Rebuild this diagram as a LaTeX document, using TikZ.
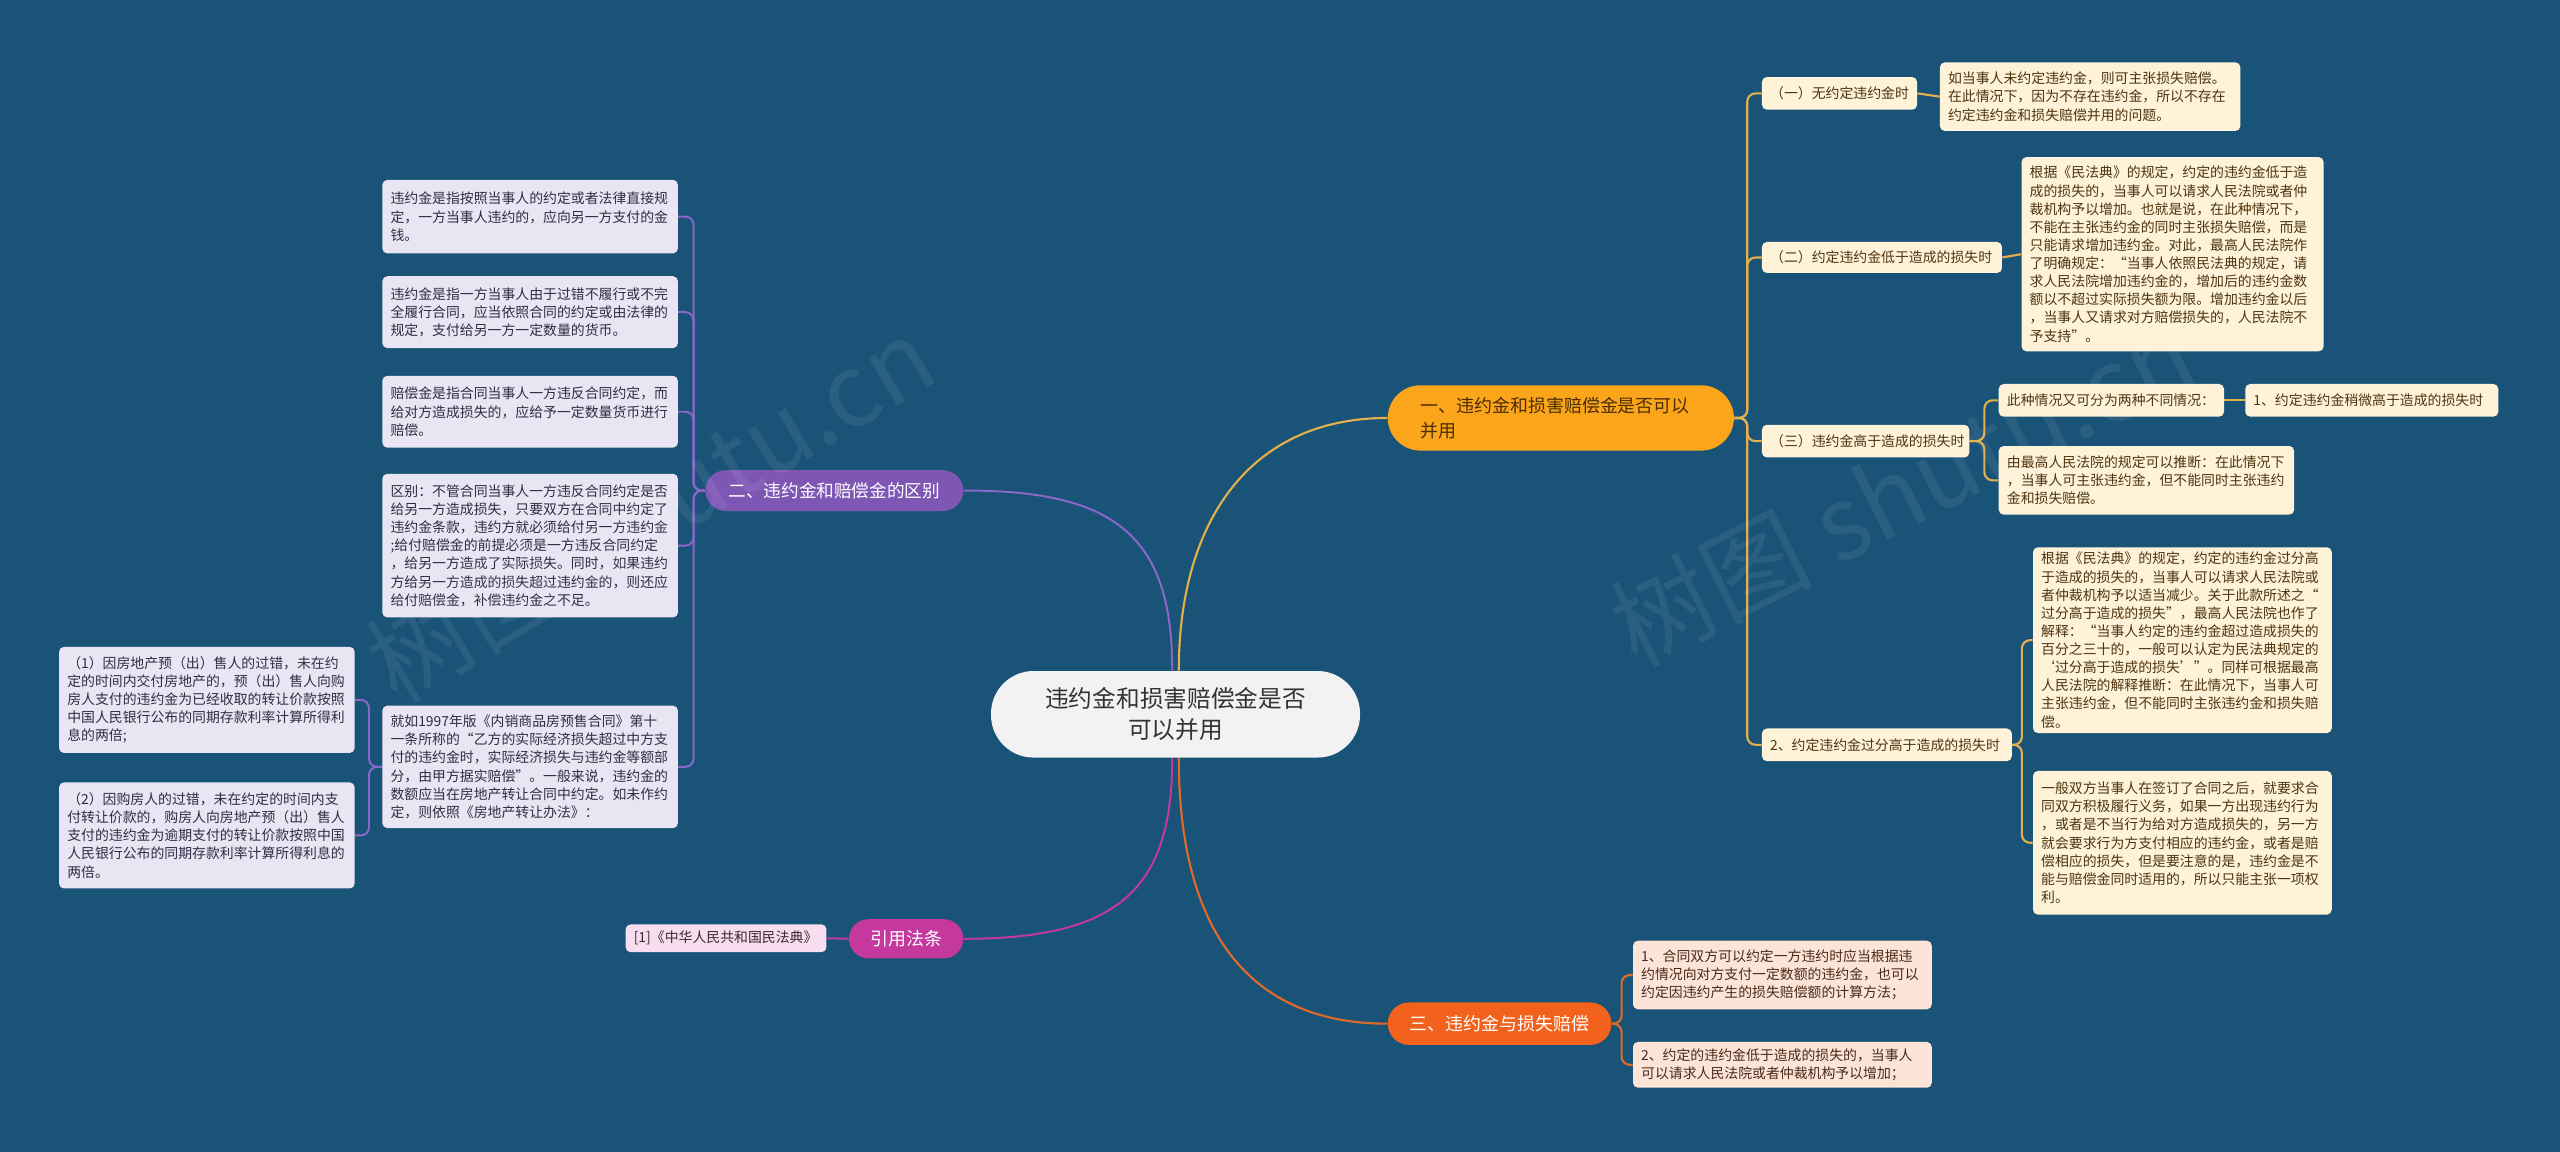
\documentclass[tikz,border=0pt]{standalone}
\usepackage{fontspec}
\newfontfamily\cjk{Noto Sans CJK SC}
\usetikzlibrary{backgrounds}
\definecolor{bgc}{HTML}{1A5378}
\definecolor{centerfill}{HTML}{F2F2F2}
\definecolor{centertext}{HTML}{333333}
\definecolor{goldfill}{HTML}{FBA51A}
\definecolor{goldtext}{HTML}{4A2E05}
\definecolor{goldline}{HTML}{E3B04B}
\definecolor{goldleaf}{HTML}{FEF2D9}
\definecolor{goldleaftext}{HTML}{4E3510}
\definecolor{purplefill}{HTML}{7E57B5}
\definecolor{purpleline}{HTML}{8B67C9}
\definecolor{purpleleaf}{HTML}{E9E5F3}
\definecolor{purpleleaftext}{HTML}{2E2E45}
\definecolor{magfill}{HTML}{C5399E}
\definecolor{magleaf}{HTML}{F7DDED}
\definecolor{magleaftext}{HTML}{3A2A35}
\definecolor{orfill}{HTML}{F2621C}
\definecolor{orline}{HTML}{E06A2A}
\definecolor{orleaf}{HTML}{FCE4D6}
\definecolor{orleaftext}{HTML}{4A2A1A}
\begin{document}
\begin{tikzpicture}[x=1pt,y=-1pt,
  leafbox/.style={anchor=north west, rounded corners=3pt, inner xsep=5pt, inner ysep=3pt,
    align=left, font=\cjk\fontsize{8.5}{11.1}\selectfont},
  gleaf/.style={leafbox, fill=goldleaf, text=goldleaftext},
  pleaf/.style={leafbox, fill=purpleleaf, text=purpleleaftext},
  oleaf/.style={leafbox, fill=orleaf, text=orleaftext},
  mleaf/.style={leafbox, fill=magleaf, text=magleaftext},
  branchbox/.style={inner sep=0pt, font=\cjk\fontsize{11}{15}\selectfont},
  gline/.style={draw=goldline, line width=1.3pt},
  pline/.style={draw=purpleline, line width=1.2pt},
  mline/.style={draw=magfill, line width=1.2pt},
  oline/.style={draw=orline, line width=1.3pt},
  elbow/.style={rounded corners=5pt}
]
% ---------- center and branches ----------
\node[fill=centerfill, text=centertext, rounded corners=26pt, minimum width=226pt, minimum height=53pt,
  inner sep=0pt, align=center, font=\cjk\fontsize{14.5}{19}\selectfont] (c) at (720,437.5)
  {违约金和损害赔偿金是否\\可以并用};
\node[branchbox, fill=goldfill, text=goldtext, rounded corners=20pt, minimum width=212pt, minimum height=40pt,
  text width=172pt, align=left] (b1) at (956,256) {一、违约金和损害赔偿金是否可以\\并用};
\node[branchbox, fill=purplefill, text=white, rounded corners=12.5pt, minimum width=158pt, minimum height=25pt,
  font=\cjk\fontsize{10.8}{14}\selectfont] (b2) at (511,300.5) {二、违约金和赔偿金的区别};
\node[branchbox, fill=magfill, text=white, rounded corners=12pt, minimum width=70pt, minimum height=24pt] (b3) at (555,575) {引用法条};
\node[branchbox, fill=orfill, text=white, rounded corners=13pt, minimum width=137pt, minimum height=26pt] (b4) at (918.5,627) {三、违约金与损失赔偿};

% ---------- branch 1 leaves ----------
\node[gleaf, minimum width=95pt, minimum height=20pt, text width=85pt] (a1) at (1079,47) {（一）无约定违约金时};
\node[gleaf, minimum width=184pt, minimum height=42pt, text width=174pt] (a1c) at (1188,38)
 {如当事人未约定违约金，则可主张损失赔偿。\\在此情况下，因为不存在违约金，所以不存在\\约定违约金和损失赔偿并用的问题。};
\node[gleaf, minimum width=147pt, minimum height=19pt, text width=137pt] (a2) at (1079,148) {（二）约定违约金低于造成的损失时};
\node[gleaf, minimum width=185pt, minimum height=119pt, text width=175pt] (a2c) at (1238,96)
 {根据《民法典》的规定，约定的违约金低于造\\成的损失的，当事人可以请求人民法院或者仲\\裁机构予以增加。也就是说，在此种情况下，\\不能在主张违约金的同时主张损失赔偿，而是\\只能请求增加违约金。对此，最高人民法院作\\了明确规定：“当事人依照民法典的规定，请\\求人民法院增加违约金的，增加后的违约金数\\额以不超过实际损失额为限。增加违约金以后\\，当事人又请求对方赔偿损失的，人民法院不\\予支持”。};
\node[gleaf, minimum width=127pt, minimum height=20pt, text width=117pt] (a3) at (1079,260) {（三）违约金高于造成的损失时};
\node[gleaf, minimum width=138pt, minimum height=20pt, text width=128pt] (a3c1) at (1224,235) {此种情况又可分为两种不同情况：};
\node[gleaf, minimum width=155pt, minimum height=20pt, text width=145pt] (a3c1c) at (1375,235) {1、约定违约金稍微高于造成的损失时};
\node[gleaf, minimum width=181pt, minimum height=42pt, text width=171pt] (a3c2) at (1224,273)
 {由最高人民法院的规定可以推断：在此情况下\\，当事人可主张违约金，但不能同时主张违约\\金和损失赔偿。};
\node[gleaf, minimum width=153pt, minimum height=20pt, text width=143pt] (a4) at (1079,446) {2、约定违约金过分高于造成的损失时};
\node[gleaf, minimum width=183pt, minimum height=106pt, text width=173pt] (a4c1) at (1245,335)
 {根据《民法典》的规定，约定的违约金过分高\\于造成的损失的，当事人可以请求人民法院或\\者仲裁机构予以适当减少。关于此款所述之“\\过分高于造成的损失”，最高人民法院也作了\\解释：“当事人约定的违约金超过造成损失的\\百分之三十的，一般可以认定为民法典规定的\\‘过分高于造成的损失’”。同样可根据最高\\人民法院的解释推断：在此情况下，当事人可\\主张违约金，但不能同时主张违约金和损失赔\\偿。};
\node[gleaf, minimum width=183pt, minimum height=88pt, text width=173pt] (a4c2) at (1245,472)
 {一般双方当事人在签订了合同之后，就要求合\\同双方积极履行义务，如果一方出现违约行为\\，或者是不当行为给对方造成损失的，另一方\\就会要求行为方支付相应的违约金，或者是赔\\偿相应的损失，但是要注意的是，违约金是不\\能与赔偿金同时适用的，所以只能主张一项权\\利。};

% ---------- branch 4 leaves ----------
\node[oleaf, minimum width=183pt, minimum height=42pt, text width=173pt] (d1) at (1000,576)
 {1、合同双方可以约定一方违约时应当根据违\\约情况向对方支付一定数额的违约金，也可以\\约定因违约产生的损失赔偿额的计算方法；};
\node[oleaf, minimum width=183pt, minimum height=28pt, text width=173pt] (d2) at (1000,638)
 {2、约定的违约金低于造成的损失的，当事人\\可以请求人民法院或者仲裁机构予以增加；};

% ---------- branch 2 leaves ----------
\node[pleaf, minimum width=181pt, minimum height=45pt, text width=171pt] (p1) at (234,110)
 {违约金是指按照当事人的约定或者法律直接规\\定，一方当事人违约的，应向另一方支付的金\\钱。};
\node[pleaf, minimum width=181pt, minimum height=44pt, text width=171pt] (p2) at (234,169)
 {违约金是指一方当事人由于过错不履行或不完\\全履行合同，应当依照合同的约定或由法律的\\规定，支付给另一方一定数量的货币。};
\node[pleaf, minimum width=181pt, minimum height=44pt, text width=171pt] (p3) at (234,230)
 {赔偿金是指合同当事人一方违反合同约定，而\\给对方造成损失的，应给予一定数量货币进行\\赔偿。};
\node[pleaf, minimum width=181pt, minimum height=88pt, text width=171pt] (p4) at (234,290)
 {区别：不管合同当事人一方违反合同约定是否\\给另一方造成损失，只要双方在合同中约定了\\违约金条款，违约方就必须给付另一方违约金\\;给付赔偿金的前提必须是一方违反合同约定\\，给另一方造成了实际损失。同时，如果违约\\方给另一方造成的损失超过违约金的，则还应\\给付赔偿金，补偿违约金之不足。};
\node[pleaf, minimum width=181pt, minimum height=75pt, text width=171pt] (p5) at (234,432)
 {就如1997年版《内销商品房预售合同》第十\\一条所称的“乙方的实际经济损失超过中方支\\付的违约金时，实际经济损失与违约金等额部\\分，由甲方据实赔偿”。一般来说，违约金的\\数额应当在房地产转让合同中约定。如未作约\\定，则依照《房地产转让办法》：};
\node[pleaf, minimum width=181pt, minimum height=65pt, text width=171pt] (q1) at (36,396)
 {（1）因房地产预（出）售人的过错，未在约\\定的时间内交付房地产的，预（出）售人向购\\房人支付的违约金为已经收取的转让价款按照\\中国人民银行公布的同期存款利率计算所得利\\息的两倍;};
\node[pleaf, minimum width=181pt, minimum height=65pt, text width=171pt] (q2) at (36,479)
 {（2）因购房人的过错，未在约定的时间内支\\付转让价款的，购房人向房地产预（出）售人\\支付的违约金为逾期支付的转让价款按照中国\\人民银行公布的同期存款利率计算所得利息的\\两倍。};

% ---------- branch 3 leaf ----------
\node[mleaf, minimum width=123pt, minimum height=17pt, text width=113pt, inner ysep=1pt] (m1) at (383,566) {[1]《中华人民共和国民法典》};

% ---------- connectors and background ----------
\begin{scope}[on background layer]
\fill[bgc] (0,0) rectangle (1568,705.6);
\draw[gline] ([xshift=2pt]c.north) .. controls (722,320) and (765,256) .. (b1.west);
\draw[pline] ([xshift=-2pt]c.north) .. controls (718,330) and (685,300) .. (b2.east);
\draw[mline] ([xshift=-2pt]c.south) .. controls (718,545) and (685,575) .. (b3.east);
\draw[oline] ([xshift=2pt]c.south) .. controls (722,570) and (765,627) .. (b4.west);
% branch 1
\foreach \t in {a1,a2,a3,a4} \draw[gline, elbow] (b1.east) -- ++(8,0) |- (\t.west);
\draw[gline] (a1.east) -- (a1c.west);
\draw[gline] (a2.east) -- (a2c.west);
\foreach \t in {a3c1,a3c2} \draw[gline, elbow] (a3.east) -- ++(9,0) |- (\t.west);
\draw[gline] (a3c1.east) -- (a3c1c.west);
\foreach \t in {a4c1,a4c2} \draw[gline, elbow] (a4.east) -- ++(6,0) |- (\t.west);
% branch 4
\foreach \t in {d1,d2} \draw[oline, elbow] (b4.east) -- ++(6,0) |- (\t.west);
% branch 2
\foreach \t in {p1,p2,p3,p4,p5} \draw[pline, elbow] (b2.west) -- ++(-7,0) |- (\t.east);
\foreach \t in {q1,q2} \draw[pline, elbow] (p5.west) -- ++(-8,0) |- (\t.east);
% branch 3
\draw[mline] (b3.west) -- (m1.east);
\end{scope}

% ---------- watermark ----------
\node[text=white, opacity=0.07, rotate=31, font=\cjk\fontsize{62}{62}\selectfont] (wm1) at (398,312) {树图 shutu.cn};
\node[text=white, opacity=0.07, rotate=27, font=\cjk\fontsize{62}{62}\selectfont] (wm2) at (1165,300) {树图 shutu.cn};
\useasboundingbox (0,0) rectangle (1568,705.6);
\end{tikzpicture}
\end{document}
